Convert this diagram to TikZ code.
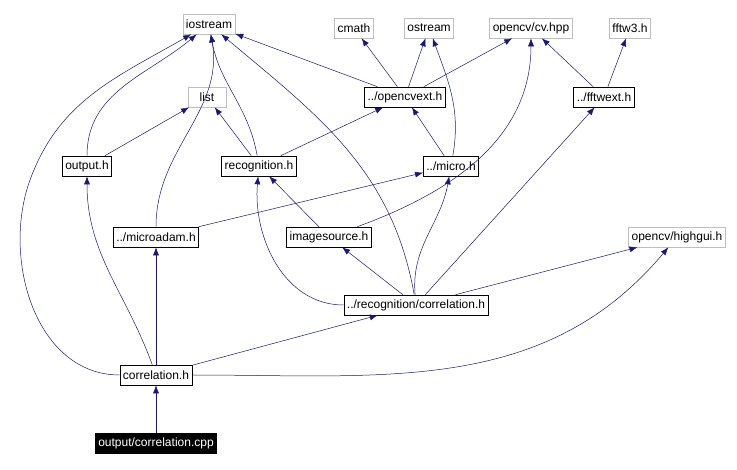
\documentclass[tikz,border=0pt]{standalone}
\usepackage{fontspec}
\setmainfont{Liberation Sans}
\usetikzlibrary{arrows.meta}
\definecolor{edgeblue}{RGB}{25,25,112}
\tikzset{
  file/.style={draw=black, line width=0.6pt, inner xsep=3pt, inner ysep=2pt, minimum height=20pt, font=\fontsize{12}{14}\selectfont},
  ext/.style={file, draw=gray!50},
  main/.style={file, fill=black, text=white},
  inc/.style={draw=edgeblue, -{Latex[length=8pt,width=6pt]}, line width=0.5pt},
}
\begin{document}
\begin{tikzpicture}[x=1pt,y=-1pt]
            \useasboundingbox (0,0) rectangle (737,470);
            \node[ext] (ios) at (209,24) {iostream};
            \node[ext] (cmath) at (354,28) {cmath};
            \node[ext] (ostr) at (429,28) {ostream};
            \node[ext] (cv) at (531,28) {opencv/cv.hpp};
            \node[ext] (fftw) at (630,28) {fftw3.h};
            \node[ext, minimum width=38pt] (list) at (207,97) {list};
            \node[file] (ocvext) at (405,97) {../opencvext.h};
            \node[file] (fftwext) at (604,97) {../fftwext.h};
            \node[file] (outh) at (87,166) {output.h};
            \node[file] (recog) at (259,166) {recognition.h};
            \node[file] (micro) at (451,166) {../micro.h};
            \node[file] (madam) at (156,237) {../microadam.h};
            \node[file] (imgsrc) at (329,237) {imagesource.h};
            \node[ext] (hgui) at (677,237) {opencv/highgui.h};
            \node[file] (rcorr) at (416,305) {../recognition/correlation.h};
            \node[file] (corr) at (156,375) {correlation.h};
            \node[main] (cpp) at (156,443) {output/correlation.cpp};

            \draw[inc] (cpp) to (corr);
            \draw[inc] (corr) to[out=180,in=-110] (30,180) to[out=70,in=-150] (ios);
            \draw[inc] (corr) to[out=110,in=-90] (outh);
            \draw[inc] (corr) to (madam);
            \draw[inc] (corr) to (rcorr);
            \draw[inc] (corr.east) to[out=0,in=-130] (hgui);
            \draw[inc] (outh) to[out=90,in=-140] (ios);
            \draw[inc] (outh) to (list);
            \draw[inc] (recog) to[out=100,in=-80] (ios);
            \draw[inc] (recog) to (list);
            \draw[inc] (recog) to (ocvext);
            \draw[inc] (ocvext) to (ios);
            \draw[inc] (ocvext) to (cmath);
            \draw[inc] (ocvext) to (ostr);
            \draw[inc] (ocvext) to (cv);
            \draw[inc] (fftwext) to (cv);
            \draw[inc] (fftwext) to (fftw);
            \draw[inc] (micro) to (ocvext);
            \draw[inc] (micro) to[out=80,in=-70] (ostr);
            \draw[inc] (madam) to (micro);
            \draw[inc] (madam) to[out=90,in=-80] (ios);
            \draw[inc] (imgsrc) to (recog);
            \draw[inc] (imgsrc) to[out=20,in=-90] (cv);
            \draw[inc] (rcorr) to[out=180,in=-95] (recog);
            \draw[inc] (rcorr) to (imgsrc);
            \draw[inc] (rcorr) to[out=95,in=-100] (micro);
            \draw[inc] (rcorr) to (fftwext);
            \draw[inc] (rcorr) to (hgui);
            \draw[inc] (rcorr) to[out=100,in=-40] (ios);
        \end{tikzpicture}
\end{document}
